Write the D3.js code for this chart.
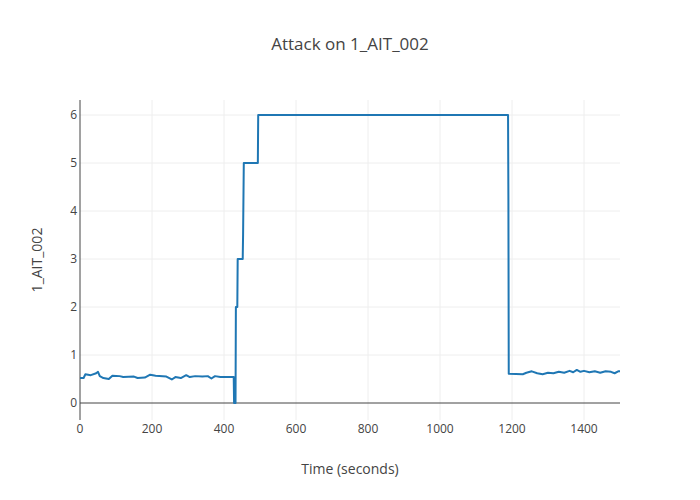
<!DOCTYPE html>
<html>
<head>
<meta charset="utf-8">
<script src="https://cdn.jsdelivr.net/npm/d3@7"></script>
<style>
  body { margin: 0; background: #fff; }
  svg { font-family: "Open Sans", "Noto Sans", sans-serif; }
</style>
</head>
<body>
<svg id="chart" width="700" height="500"></svg>
<script>
const title = "Attack on 1_AIT_002";
const xTitle = "Time (seconds)";
const yTitle = "1_AIT_002";
const xTicks = [0, 200, 400, 600, 800, 1000, 1200, 1400];
const yTicks = [0, 1, 2, 3, 4, 5, 6];
const times = [
  0, 10, 15, 30, 45, 50, 55, 65, 80, 90, 110, 120, 150, 160, 180, 195, 210, 240,
  255, 265, 280, 295, 305, 320, 340, 355, 365, 375, 390, 410, 427,
  428, 432, 433, 437, 438, 452, 453, 455, 456, 494, 495,
  1189, 1190, 1191, 1230, 1240, 1255, 1270, 1285, 1300, 1315, 1330, 1345,
  1360, 1370, 1380, 1390, 1400, 1415, 1430, 1445, 1460, 1475, 1485, 1495, 1500
];
const values = [
  0.52, 0.52, 0.60, 0.58, 0.62, 0.65, 0.56, 0.52, 0.50, 0.57, 0.56, 0.54, 0.55, 0.52, 0.53, 0.59, 0.57, 0.55,
  0.49, 0.54, 0.52, 0.58, 0.54, 0.56, 0.55, 0.56, 0.51, 0.56, 0.54, 0.54, 0.54,
  0.0, 0.0, 2.0, 2.0, 3.0, 3.0, 3.5, 5.0, 5.0, 5.0, 6.0,
  6.0, 4.25, 0.61, 0.60, 0.63, 0.66, 0.62, 0.60, 0.63, 0.62, 0.65, 0.63,
  0.67, 0.64, 0.69, 0.65, 0.67, 0.64, 0.66, 0.63, 0.66, 0.65, 0.62, 0.66, 0.66
];
const xDomain = [0, 1500];
const yDomain = [-0.354, 6.3125];

const svg = d3.select("#chart");
const W = 700, H = 500;
const m = {l: 80, r: 80, t: 100, b: 80};
const x = d3.scaleLinear().domain(xDomain).range([m.l, W - m.r]);
const y = d3.scaleLinear().domain(yDomain).range([H - m.b, m.t]);

// grid
svg.append("g").selectAll("line").data(xTicks.filter(d => d !== 0)).join("line")
  .attr("x1", d => Math.round(x(d))).attr("x2", d => Math.round(x(d)))
  .attr("y1", m.t).attr("y2", H - m.b)
  .attr("stroke", "#eee").attr("stroke-width", 1);
svg.append("g").selectAll("line").data(yTicks.filter(d => d !== 0)).join("line")
  .attr("y1", d => Math.round(y(d))).attr("y2", d => Math.round(y(d)))
  .attr("x1", m.l).attr("x2", W - m.r)
  .attr("stroke", "#eee").attr("stroke-width", 1);

// zero lines
svg.append("line")
  .attr("x1", m.l).attr("x2", W - m.r)
  .attr("y1", Math.round(y(0))).attr("y2", Math.round(y(0)))
  .attr("stroke", "#444").attr("stroke-width", 1);
svg.append("line")
  .attr("x1", Math.round(x(0))).attr("x2", Math.round(x(0)))
  .attr("y1", m.t).attr("y2", H - m.b)
  .attr("stroke", "#444").attr("stroke-width", 1);

// data line
const data = times.map((t, i) => [t, values[i]]);
svg.append("path")
  .datum(data)
  .attr("fill", "none")
  .attr("stroke", "#1f77b4")
  .attr("stroke-width", 2)
  .attr("stroke-linejoin", "round")
  .attr("d", d3.line().x(d => x(d[0])).y(d => y(d[1])));

// tick labels
svg.append("g").selectAll("text").data(xTicks).join("text")
  .attr("x", d => x(d)).attr("y", H - m.b + 13)
  .attr("text-anchor", "middle")
  .attr("fill", "#444").attr("font-size", 12)
  .text(d => d);
svg.append("g").selectAll("text").data(yTicks).join("text")
  .attr("x", m.l - 3).attr("y", d => y(d) + 4.2)
  .attr("text-anchor", "end")
  .attr("fill", "#444").attr("font-size", 12)
  .text(d => d);

// titles
svg.append("text").attr("x", W / 2).attr("y", 50)
  .attr("text-anchor", "middle").attr("fill", "#444").attr("font-size", 17)
  .text(title);
svg.append("text").attr("x", (m.l + W - m.r) / 2).attr("y", 474)
  .attr("text-anchor", "middle").attr("fill", "#444").attr("font-size", 14)
  .text(xTitle);
svg.append("text")
  .attr("transform", `translate(42,${(m.t + H - m.b) / 2}) rotate(-90)`)
  .attr("text-anchor", "middle").attr("fill", "#444").attr("font-size", 14)
  .text(yTitle);
</script>
</body>
</html>
